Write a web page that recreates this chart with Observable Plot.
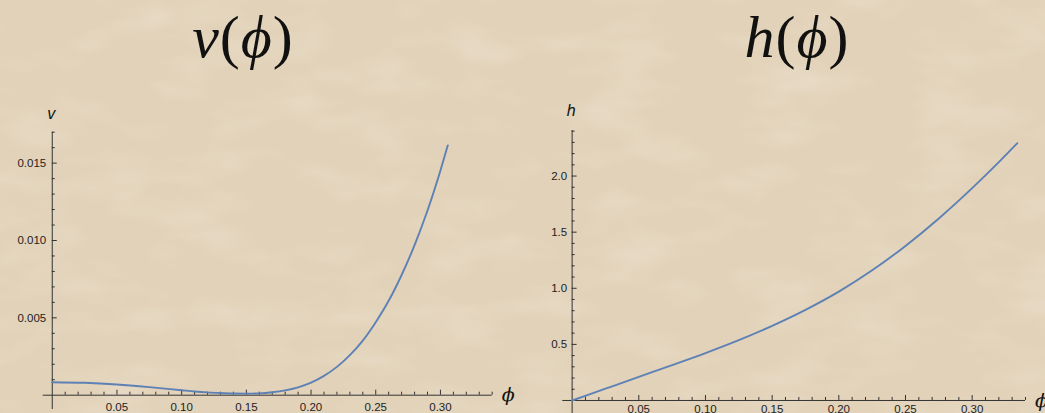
<!DOCTYPE html>
<html>
<head>
<meta charset="utf-8">
<script src="https://cdn.jsdelivr.net/npm/d3@7"></script>
<script src="https://cdn.jsdelivr.net/npm/@observablehq/plot@0.6"></script>
<style>
  html, body { margin: 0; padding: 0; }
  body {
    width: 1045px; height: 413px; overflow: hidden; position: relative;
    background-color: #e2d2b9;
  }
  #texture { position: absolute; left: 0; top: 0; }
  .title {
    position: absolute; top: 0; height: 80px; line-height: 1;
    font-family: "Liberation Serif", "DejaVu Serif", serif;
    font-size: 60px; color: #111; text-align: center; width: 300px;
    letter-spacing: 1px;
  }
  .title i { font-style: italic; }
  .panel { position: absolute; top: 0; }
</style>
</head>
<body>
<svg id="texture" width="1045" height="413">
  <filter id="paper" x="0" y="0" width="100%" height="100%">
    <feTurbulence type="fractalNoise" baseFrequency="0.012 0.03" numOctaves="3" seed="4"/>
    <feColorMatrix type="matrix" values="0 0 0 0 1  0 0 0 0 0.98  0 0 0 0 0.94  0 0 0 1.2 -0.55"/>
  </filter>
  <rect width="1045" height="413" filter="url(#paper)" opacity="0.35"/>
</svg>
<div class="title" style="left:93px; top:7px;"><i>v</i>(<i>ϕ</i>)</div>
<div class="title" style="left:647px; top:7px;"><i>h</i>(<i>ϕ</i>)</div>
<div class="panel" id="left" style="left:0px;"></div>
<div class="panel" id="right" style="left:522px;"></div>
<script>
// ---- data ----
const phiV = [0, 0.025, 0.05, 0.075, 0.10, 0.11, 0.12, 0.13, 0.14, 0.15, 0.16, 0.17, 0.18, 0.19, 0.20, 0.21, 0.22, 0.23, 0.24, 0.25, 0.26, 0.27, 0.28, 0.29, 0.30, 0.3057];
const vVals = [0.00084, 0.00080, 0.00069, 0.00052, 0.00032, 0.00024, 0.00018, 0.00014, 0.00011, 0.00010, 0.00012, 0.00019, 0.00031, 0.00051, 0.00081, 0.00125, 0.00183, 0.00259, 0.00353, 0.00472, 0.00610, 0.00777, 0.00970, 0.01194, 0.01453, 0.01615];

const phiH = [0, 0.025, 0.05, 0.075, 0.10, 0.125, 0.15, 0.175, 0.20, 0.225, 0.25, 0.275, 0.30, 0.3213, 0.3338];
const hVals = [0, 0.105, 0.210, 0.315, 0.4225, 0.5375, 0.665, 0.8075, 0.970, 1.160, 1.3775, 1.6225, 1.8925, 2.140, 2.292];

const phiTicks = [0.05, 0.10, 0.15, 0.20, 0.25, 0.30];
const phiTickLabels = ["0.05", "0.10", "0.15", "0.20", "0.25", "0.30"];
const phiMinor = [0.01,0.02,0.03,0.04,0.06,0.07,0.08,0.09,0.11,0.12,0.13,0.14,0.16,0.17,0.18,0.19,0.21,0.22,0.23,0.24,0.26,0.27,0.28,0.29,0.31,0.32,0.33,0.34];

const vTicks = [0.005, 0.010, 0.015];
const vTickLabels = ["0.005", "0.010", "0.015"];
const vMinor = [0.001,0.002,0.003,0.004,0.006,0.007,0.008,0.009,0.011,0.012,0.013,0.014,0.016,0.017];

const hTicks = [0.5, 1.0, 1.5, 2.0];
const hTickLabels = ["0.5", "1.0", "1.5", "2.0"];
const hMinor = [0.1,0.2,0.3,0.4,0.6,0.7,0.8,0.9,1.1,1.2,1.3,1.4,1.6,1.7,1.8,1.9,2.1,2.2,2.3,2.4];

// ---- styling ----
const lineColor = "#5e81b5";
const axisColor = "#333333";
const tickFont = "'Liberation Sans', Arial, sans-serif";

function panel({xs, ys, xDomain, yDomain, xT, xL, xMin, yT, yL, yMin, yName, width, height, margins, yNameDy, yLabelDx, xLabelDy}) {
  const data = xs.map((x, i) => ({x, y: ys[i]}));
  return Plot.plot({
    width, height,
    ...margins,
    style: {background: "transparent", overflow: "visible"},
    x: {domain: xDomain, axis: null},
    y: {domain: yDomain, axis: null},
    marks: [
      // axes lines
      Plot.ruleY([0], {stroke: axisColor, strokeWidth: 1}),
      Plot.ruleX([0], {stroke: axisColor, strokeWidth: 1}),
      // x ticks (pointing up)
      Plot.ruleX(xT, {x: d => d, y1: 0, y2: 0, insetBottom: 5, stroke: axisColor}),
      Plot.ruleX(xMin, {x: d => d, y1: 0, y2: 0, insetBottom: 3, stroke: axisColor}),
      // y ticks (pointing right)
      Plot.ruleY(yT, {y: d => d, x1: 0, x2: 0, insetLeft: 5, stroke: axisColor}),
      Plot.ruleY(yMin, {y: d => d, x1: 0, x2: 0, insetLeft: 3, stroke: axisColor}),
      // tick labels
      Plot.text(xT, {x: d => d, y: 0, text: (d, i) => xL[i], dy: xLabelDy, fontSize: 11.5, fontFamily: tickFont, fill: "#222"}),
      Plot.text(yT, {x: 0, y: d => d, text: (d, i) => yL[i], dx: yLabelDx, textAnchor: "end", fontSize: 11.5, fontFamily: tickFont, fill: "#222"}),
      // axis names
      Plot.text([yName], {x: 0, y: yDomain[1], text: d => d, dy: yNameDy, dx: -1, fontSize: 16, fontStyle: "italic", fontFamily: tickFont, fill: "#111"}),
      Plot.text(["ϕ"], {x: xDomain[1], y: 0, text: d => d, dx: 16, fontSize: 19, fontStyle: "italic", fontFamily: "'DejaVu Serif', serif", fill: "#111"}),
      // curve
      Plot.line(data, {x: "x", y: "y", stroke: lineColor, strokeWidth: 1.9, curve: "monotone-x"})
    ]
  });
}

document.getElementById("left").appendChild(panel({
  xs: phiV, ys: vVals,
  xDomain: [-0.007, 0.34], yDomain: [-0.000925, 0.017],
  xT: phiTicks, xL: phiTickLabels, xMin: phiMinor,
  yT: vTicks, yL: vTickLabels, yMin: vMinor,
  yName: "v", width: 522, height: 413,
  margins: {marginLeft: 42.7, marginRight: 30.3, marginTop: 131.7, marginBottom: 4},
  yNameDy: -18, yLabelDx: -6, xLabelDy: 12
}));

document.getElementById("right").appendChild(panel({
  xs: phiH, ys: hVals,
  xDomain: [-0.007, 0.34], yDomain: [-0.116, 2.406],
  xT: phiTicks, xL: phiTickLabels, xMin: phiMinor,
  yT: hTicks, yL: hTickLabels, yMin: hMinor,
  yName: "h", width: 523, height: 413,
  margins: {marginLeft: 40.3, marginRight: 20, marginTop: 130, marginBottom: 0},
  yNameDy: -20, yLabelDx: -5, xLabelDy: 8.5
}));
</script>
</body>
</html>
